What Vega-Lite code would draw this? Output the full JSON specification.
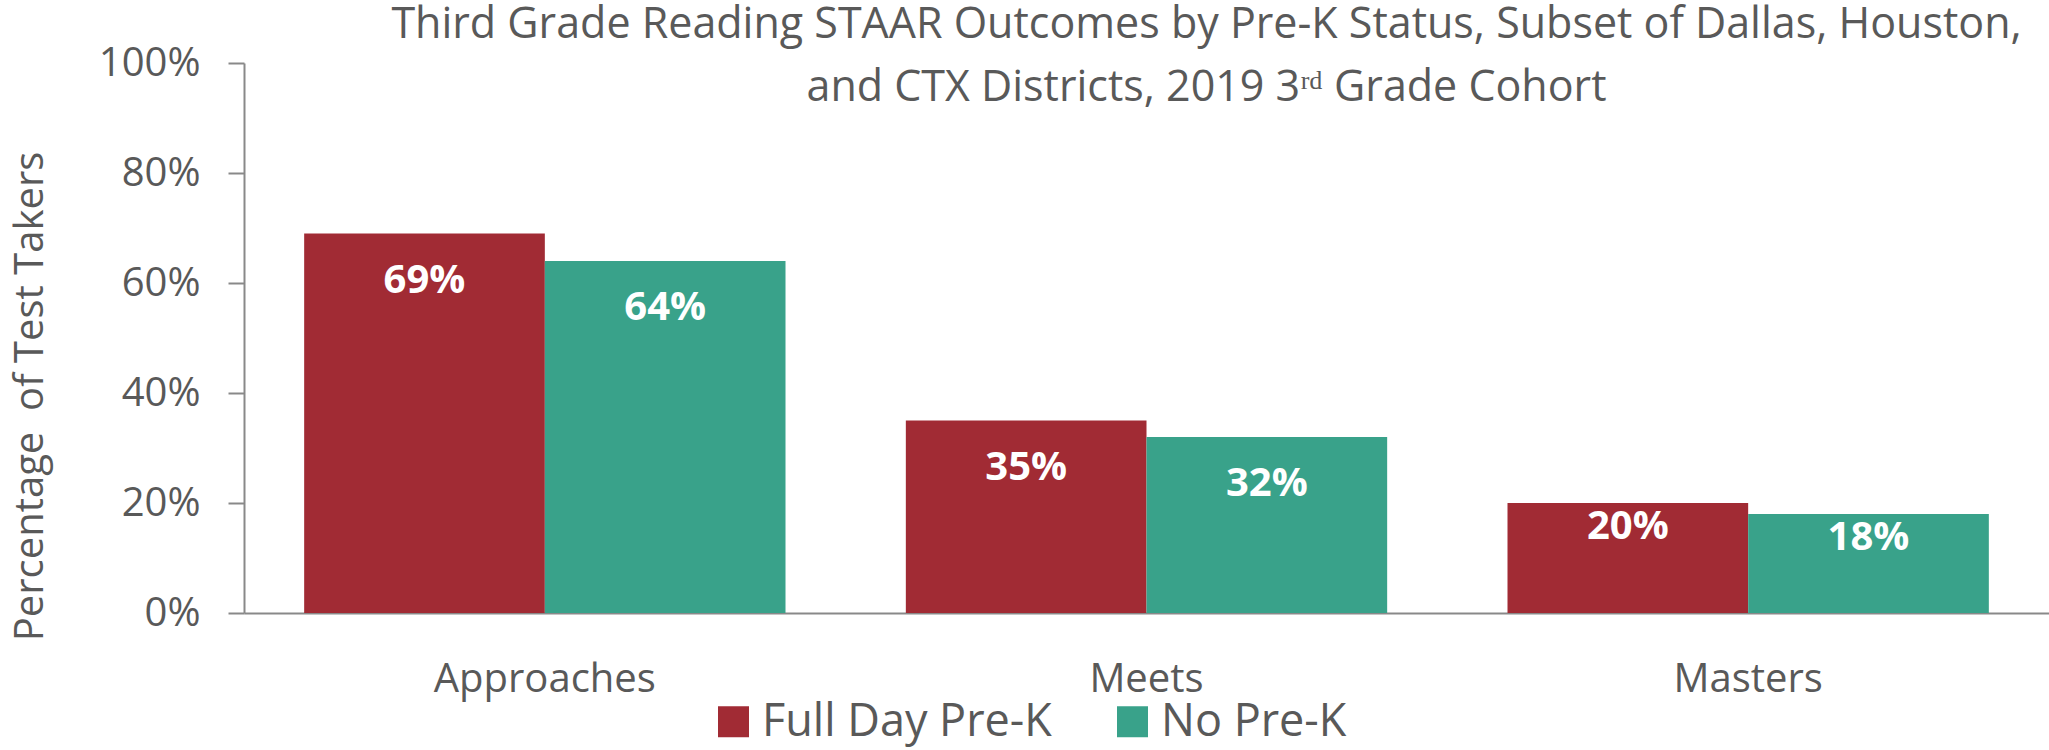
{
  "$schema": "https://vega.github.io/schema/vega-lite/v6.json",
  "width": 1805,
  "height": 550,
  "autosize": "none",
  "padding": {"left": 244, "top": 63, "right": 0, "bottom": 137},
  "background": "white",
  "title": {
    "text": ["Third Grade Reading STAAR Outcomes by Pre-K Status, Subset of Dallas, Houston,", "and CTX Districts, 2019 3ʳᵈ Grade Cohort"],
    "frame": "group",
    "anchor": "middle",
    "dx": 60,
    "offset": -101,
    "baseline": "alphabetic",
    "font": "Open Sans",
    "fontSize": 43,
    "fontWeight": "normal",
    "color": "#595959",
    "lineHeight": 63
  },
  "data": {
    "values": [
      {"level": "Approaches", "group": "Full Day Pre-K", "pct": 0.69},
      {"level": "Approaches", "group": "No Pre-K", "pct": 0.64},
      {"level": "Meets", "group": "Full Day Pre-K", "pct": 0.35},
      {"level": "Meets", "group": "No Pre-K", "pct": 0.32},
      {"level": "Masters", "group": "Full Day Pre-K", "pct": 0.20},
      {"level": "Masters", "group": "No Pre-K", "pct": 0.18}
    ]
  },
  "encoding": {
    "x": {
      "field": "level",
      "type": "nominal",
      "sort": ["Approaches", "Meets", "Masters"],
      "scale": {"paddingInner": 0.2, "paddingOuter": 0.1},
      "title": null,
      "axis": {
        "labelAngle": 0,
        "labelFont": "Open Sans",
        "labelFontSize": 40,
        "labelColor": "#595959",
        "labelPadding": 46,
        "labelLimit": 600,
        "ticks": false,
        "tickSize": 0,
        "domain": true,
        "domainColor": "#898989",
        "domainWidth": 2,
        "grid": false
      }
    },
    "xOffset": {
      "field": "group",
      "type": "nominal",
      "sort": ["Full Day Pre-K", "No Pre-K"],
      "scale": {"paddingInner": 0, "paddingOuter": 0}
    },
    "y": {
      "field": "pct",
      "type": "quantitative",
      "scale": {"domain": [0, 1], "nice": false},
      "title": "Percentage \u00a0of Test Takers",
      "axis": {
        "values": [0, 0.2, 0.4, 0.6, 0.8, 1],
        "format": ".0%",
        "grid": false,
        "labelFont": "Open Sans",
        "labelFontSize": 40,
        "labelColor": "#595959",
        "labelPadding": 28,
        "ticks": true,
        "tickSize": 16,
        "tickWidth": 2,
        "tickColor": "#898989",
        "domain": true,
        "domainColor": "#898989",
        "domainWidth": 2,
        "titleFont": "Open Sans",
        "titleFontSize": 40,
        "titleFontWeight": "normal",
        "titleColor": "#595959",
        "titleX": -202,
        "titleY": 333,
        "titleAngle": -90,
        "titleAlign": "center",
        "titleBaseline": "alphabetic",
        "titleLimit": 700
      }
    }
  },
  "layer": [
    {
      "mark": {"type": "bar"},
      "encoding": {
        "color": {
          "field": "group",
          "type": "nominal",
          "scale": {"domain": ["Full Day Pre-K", "No Pre-K"], "range": ["#A12B34", "#39A28A"]},
          "legend": {
            "title": null,
            "orient": "none",
            "direction": "horizontal",
            "legendX": 467,
            "legendY": 636,
            "symbolType": "square",
            "symbolSize": 961,
            "symbolStrokeWidth": 0,
            "labelFont": "Open Sans",
            "labelFontSize": 45,
            "labelColor": "#595959",
            "labelOffset": 6,
            "columnPadding": 58,
            "labelLimit": 500
          }
        }
      }
    },
    {
      "transform": [{"filter": "datum.level !== 'Masters'"}],
      "mark": {"type": "text", "color": "white", "font": "Open Sans", "fontWeight": "bold", "fontSize": 40, "baseline": "middle", "dy": 47},
      "encoding": {"text": {"field": "pct", "type": "quantitative", "format": ".0%"}}
    },
    {
      "transform": [{"filter": "datum.level === 'Masters'"}],
      "mark": {"type": "text", "color": "white", "font": "Open Sans", "fontWeight": "bold", "fontSize": 40, "baseline": "middle", "dy": 24},
      "encoding": {"text": {"field": "pct", "type": "quantitative", "format": ".0%"}}
    }
  ],
  "config": {"view": {"stroke": null}}
}
